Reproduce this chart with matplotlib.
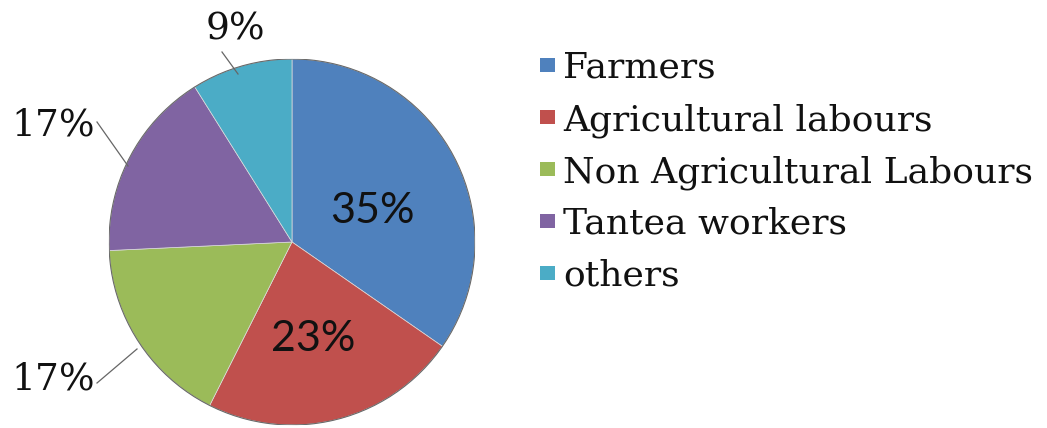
import matplotlib
matplotlib.use("Agg")
import matplotlib.pyplot as plt
from matplotlib.patches import Rectangle, Circle

categories = ["Farmers", "Agricultural labours", "Non Agricultural Labours",
              "Tantea workers", "others"]
shares = [35, 23, 17, 17, 9]
colors = ["#4F81BD", "#C0504D", "#9BBB59", "#8064A2", "#4BACC6"]

W, H = 1047, 428
fig = plt.figure(figsize=(W / 100, H / 100), dpi=100)

# pie placed by pixel geometry: centre (292, 242), radius 183
cx, cy, r = 292, 242, 183
ax = fig.add_axes([(cx - r) / W, (H - cy - r) / H, 2 * r / W, 2 * r / H])
ax.axis("off")

wedges, _ = ax.pie(shares, colors=colors, startangle=90, counterclock=False,
                   radius=1.0, wedgeprops=dict(linewidth=0.5, edgecolor="#dcdcdc"))
ax.add_patch(Circle((0, 0), 1.0, fill=False, edgecolor="#6a6a6a", linewidth=0.8))
ax.set_xlim(-1, 1)
ax.set_ylim(-1, 1)
ax.set_aspect("equal")


def px(x, y):
    return ((x - cx) / r, (cy - y) / r)


serif = "DejaVu Serif"
sans = "Lato"

# labels inside the large slices
inside = {0: (372, 211), 1: (313, 339)}
for i, (x, y) in inside.items():
    ax.text(*px(x, y), f"{shares[i]}%", ha="center", va="center",
            fontsize=31, family=sans, color="#111111")

# labels outside with leader lines
outside = {
    4: ((235, 30), (222, 52), (238, 74)),
    3: ((53, 126), (97, 122), (128, 166)),
    2: ((53, 380), (97, 383), (137, 349)),
}
for i, (tpos, a, b) in outside.items():
    ax.text(*px(*tpos), f"{shares[i]}%", ha="center", va="center",
            fontsize=27, family=serif, color="#111111")
    (x0, y0), (x1, y1) = px(*a), px(*b)
    ax.plot([x0, x1], [y0, y1], color="#666666", lw=0.9, clip_on=False)

# legend drawn in figure pixels
row0, step = 78, 52
for k, (name, col) in enumerate(zip(categories, colors)):
    base = row0 + k * step
    fig.patches.append(Rectangle((540 / W, (H - base + 6) / H), 15 / W, 14 / H,
                                 transform=fig.transFigure, facecolor=col,
                                 edgecolor="none"))
    fig.text(563 / W, (H - base) / H, name, ha="left", va="baseline",
             fontsize=26, family=serif, color="#111111")

fig.savefig("out.png", dpi=100, facecolor="white")
